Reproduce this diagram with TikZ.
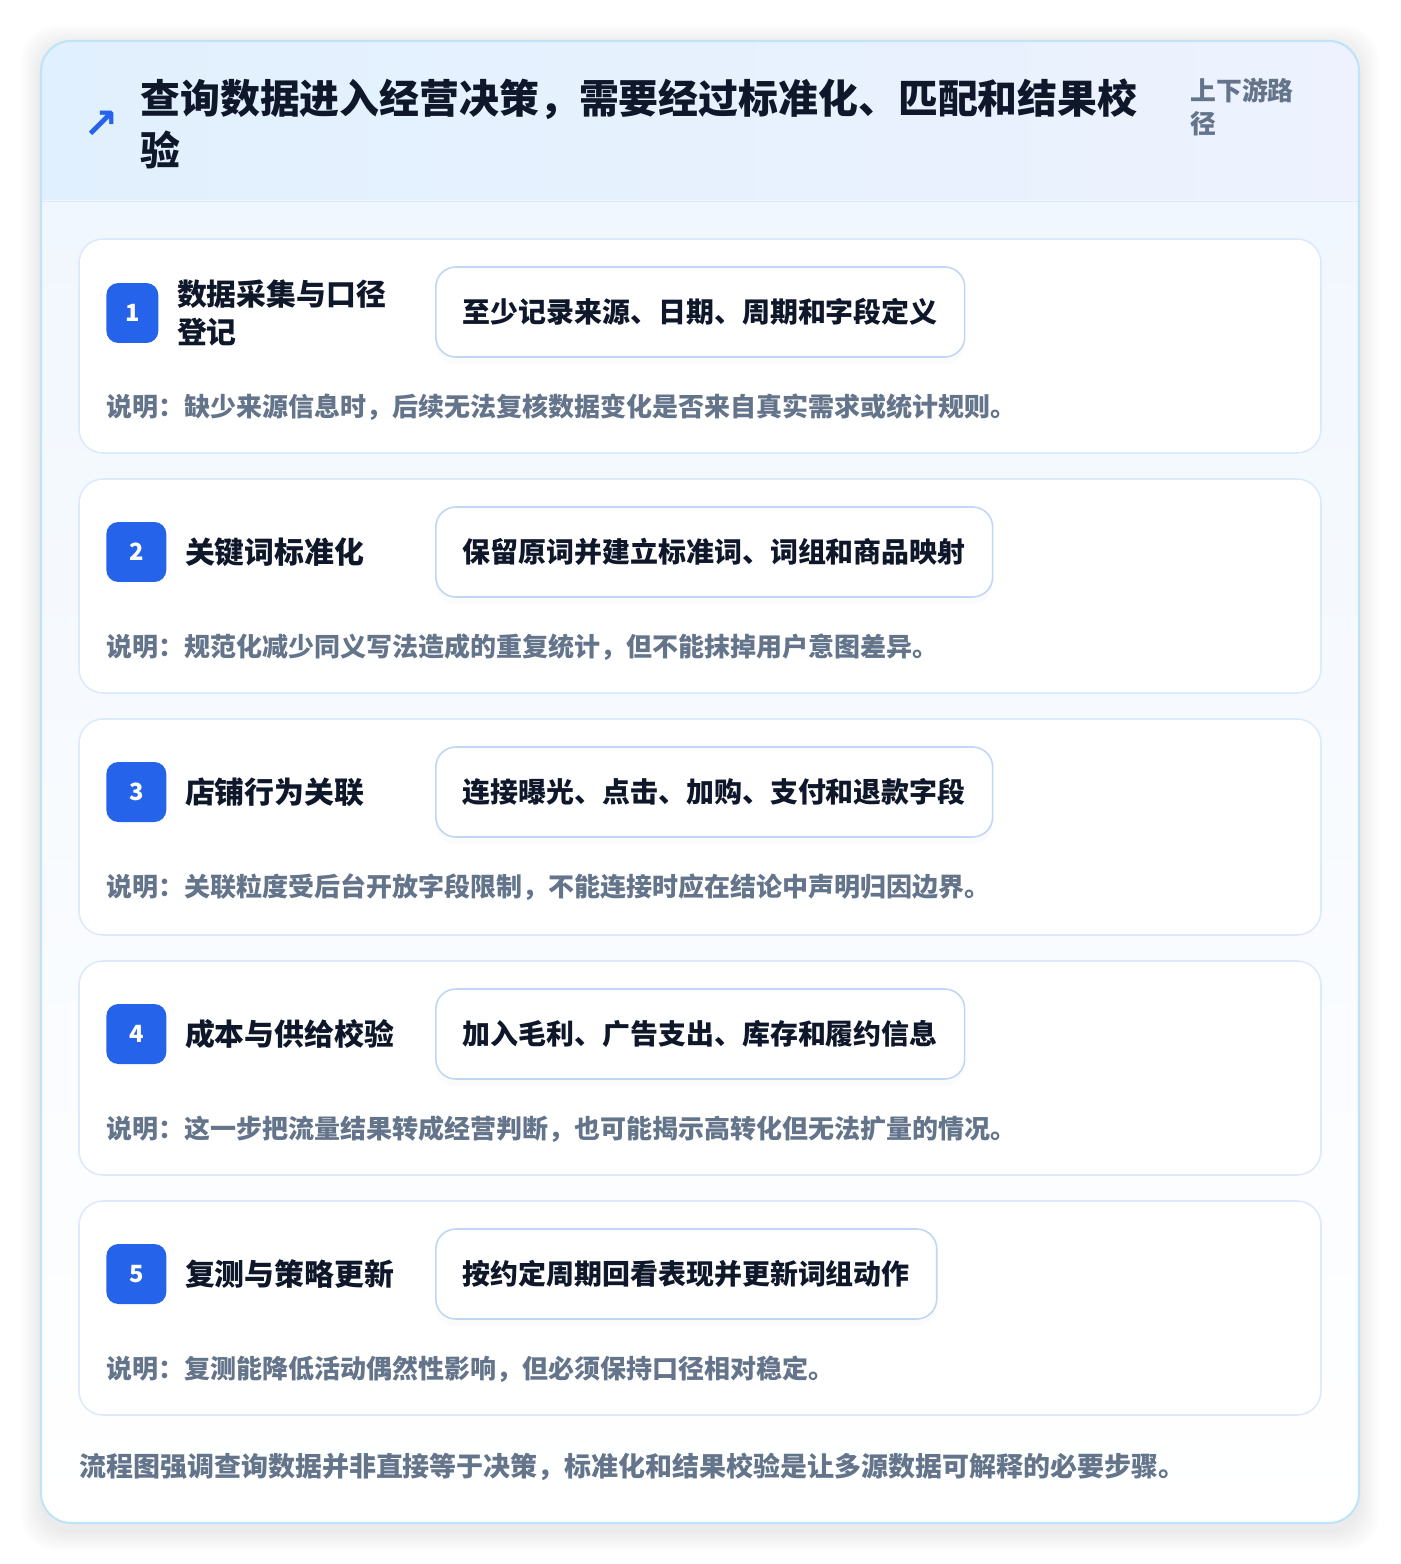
\documentclass[tikz,border=0pt]{standalone}
\usepackage{fontspec}
\setmainfont{Noto Sans CJK SC}
\newfontfamily\symfont{DejaVu Sans}
\usetikzlibrary{positioning,shadows}

\definecolor{ink}{HTML}{0F172A}
\definecolor{muted}{HTML}{64748B}
\definecolor{accent}{HTML}{2563EB}
\definecolor{frame}{HTML}{BFE3F8}
\definecolor{cardline}{HTML}{DCEAFB}
\definecolor{pillline}{HTML}{BFD7F5}
\definecolor{headL}{HTML}{E1F0FE}
\definecolor{headR}{HTML}{EDF2FE}
\definecolor{bodyT}{HTML}{F1F7FE}

\begin{document}
\begin{tikzpicture}
  [x=0.02cm, y=-0.02cm,
   cardbox/.style={fill=white, draw=cardline, line width=0.9pt, rounded corners=0.48cm},
   badge/.style={fill=accent, text=white, rounded corners=0.24cm, inner sep=0pt,
                 minimum width=1.2cm, minimum height=1.2cm, anchor=west,
                 font=\fontsize{13.5pt}{14pt}\selectfont\bfseries},
   steptitle/.style={text=ink, inner sep=0pt, align=left, right=0.36cm of #1,
                     font=\fontsize{17pt}{22pt}\selectfont\bfseries},
   pill/.style={fill=white, draw=pillline, line width=0.9pt, rounded corners=0.4cm,
                minimum height=1.8cm, inner xsep=0.54cm, anchor=west, text=ink,
                font=\fontsize{15.9pt}{18pt}\selectfont\bfseries,
                drop shadow={opacity=0.03, shadow xshift=0pt, shadow yshift=-4pt}},
   note/.style={text=muted, inner sep=0pt, anchor=west,
                font=\fontsize{14.8pt}{17pt}\selectfont\bfseries}]
  \fill[white] (0,0) rectangle (1400,1564);
  \useasboundingbox (0,0) rectangle (1400,1564);
  % soft shadow of the outer card
  \foreach \i in {1,...,10}
    \fill[black, opacity=0.006, rounded corners=0.7cm]
      (41-2*\i, 45-2*\i) rectangle (1359+2*\i, 1531+2*\i);
  \begin{scope}
    \clip[rounded corners=0.6cm] (41,41) rectangle (1359,1523);
    \shade[left color=headL, right color=headR] (41,41) rectangle (1359,201);
    \shade[top color=bodyT, bottom color=white] (41,201) rectangle (1359,1523);
  \end{scope}
  \draw[cardline] (41,201) -- (1359,201);
  \draw[frame, line width=1.2pt, rounded corners=0.6cm] (41,41) rectangle (1359,1523);

  % header
  \node[text=accent, inner sep=0pt, font=\symfont\fontsize{24pt}{24pt}\selectfont\bfseries] (icon) at (101,125) {↗};
  \node[text=ink, inner sep=0pt, anchor=west, align=left,
        font=\fontsize{22.7pt}{29.5pt}\selectfont\bfseries] (title) at (140,124)
        {查询数据进入经营决策，需要经过标准化、匹配和结果校\\验};
  \node[text=muted, inner sep=0pt, anchor=west, align=left,
        font=\fontsize{14.7pt}{18.7pt}\selectfont\bfseries] (route) at (1190,107)
        {上下游路\\径};

  % step 1
  \draw[cardbox] (79,239) rectangle (1321,453);
  \node[badge, minimum width=1.04cm] (badge1) at (106,313) {1};
  \node[steptitle=badge1] (step1) {数据采集与口径\\登记};
  \node[pill] (pill1) at (435,312) {至少记录来源、日期、周期和字段定义};
  \node[note] (note1) at (106,407) {说明：缺少来源信息时，后续无法复核数据变化是否来自真实需求或统计规则。};

  % step 2
  \draw[cardbox] (79,479) rectangle (1321,693);
  \node[badge] (badge2) at (106,552) {2};
  \node[steptitle=badge2] (step2) {关键词标准化};
  \node[pill] (pill2) at (435,552) {保留原词并建立标准词、词组和商品映射};
  \node[note] (note2) at (106,647) {说明：规范化减少同义写法造成的重复统计，但不能抹掉用户意图差异。};

  % step 3
  \draw[cardbox] (79,719) rectangle (1321,935);
  \node[badge] (badge3) at (106,792) {3};
  \node[steptitle=badge3] (step3) {店铺行为关联};
  \node[pill] (pill3) at (435,792) {连接曝光、点击、加购、支付和退款字段};
  \node[note] (note3) at (106,887) {说明：关联粒度受后台开放字段限制，不能连接时应在结论中声明归因边界。};

  % step 4
  \draw[cardbox] (79,961) rectangle (1321,1175);
  \node[badge] (badge4) at (106,1034) {4};
  \node[steptitle=badge4] (step4) {成本与供给校验};
  \node[pill] (pill4) at (435,1034) {加入毛利、广告支出、库存和履约信息};
  \node[note] (note4) at (106,1129) {说明：这一步把流量结果转成经营判断，也可能揭示高转化但无法扩量的情况。};

  % step 5
  \draw[cardbox] (79,1201) rectangle (1321,1415);
  \node[badge] (badge5) at (106,1274) {5};
  \node[steptitle=badge5] (step5) {复测与策略更新};
  \node[pill] (pill5) at (435,1274) {按约定周期回看表现并更新词组动作};
  \node[note] (note5) at (106,1369) {说明：复测能降低活动偶然性影响，但必须保持口径相对稳定。};

  \node[note, font=\fontsize{15.35pt}{18pt}\selectfont\bfseries] (summary) at (79,1467)
    {流程图强调查询数据并非直接等于决策，标准化和结果校验是让多源数据可解释的必要步骤。};
\end{tikzpicture}
\end{document}
